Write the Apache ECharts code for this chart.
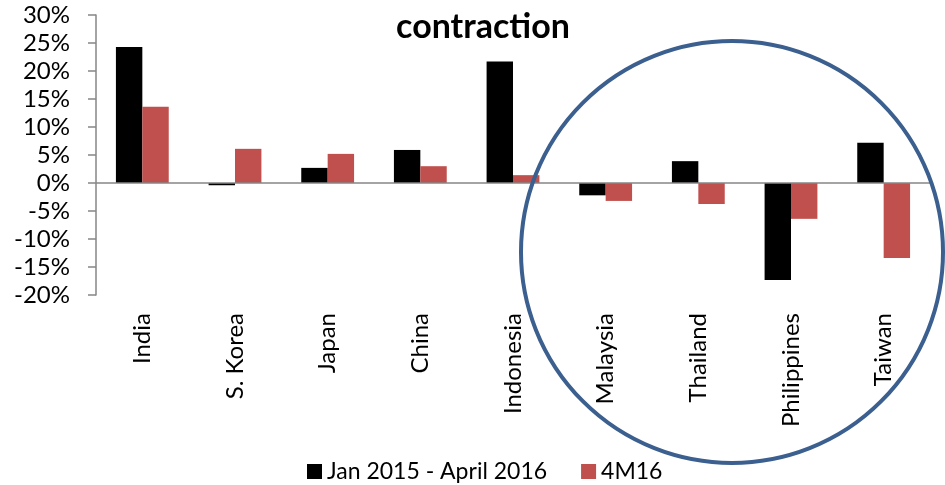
<!DOCTYPE html>
<html>
<head>
<meta charset="utf-8">
<script src="https://cdn.jsdelivr.net/npm/echarts@6/dist/echarts.min.js"></script>
<style>html,body{margin:0;padding:0;background:#fff;}#c{width:945px;height:485px;}</style>
</head>
<body>
<div id="c"></div>
<script>
const categories = ['India','S. Korea','Japan','China','Indonesia','Malaysia','Thailand','Philippines','Taiwan'];
const seriesNames = ['Jan 2015 - April 2016','4M16'];
const jan15Apr16 = [24.3, -0.4, 2.7, 5.9, 21.7, -2.2, 3.9, -17.3, 7.2];
const m4_16 = [13.6, 6.1, 5.2, 3.0, 1.4, -3.2, -3.75, -6.4, -13.4];
const yTicks = {min: -20, max: 30, interval: 5};
const titleText = 'contraction';

const font = 'Lato, "Open Sans", sans-serif';
const chart = echarts.init(document.getElementById('c'), null, {renderer: 'canvas'});
chart.setOption({
  animation: false,
  backgroundColor: '#ffffff',
  title: {
    text: titleText,
    left: 478, top: 5, textAlign: 'center',
    textStyle: {fontFamily: font, fontWeight: 'bold', fontSize: 34, color: '#000'}
  },
  grid: {left: 96, right: 15, top: 15, bottom: 190, containLabel: false},
  legend: {
    data: seriesNames,
    left: 302, top: 455,
    itemWidth: 15, itemHeight: 15, itemGap: 34,
    icon: 'rect',
    textStyle: {fontFamily: font, fontSize: 23, color: '#000'}
  },
  xAxis: {
    type: 'category', data: categories,
    axisLine: {show: false, onZero: false},
    axisTick: {show: false},
    axisLabel: {rotate: 90, margin: 18, fontFamily: font, fontSize: 24, color: '#000', interval: 0}
  },
  yAxis: {
    type: 'value', min: yTicks.min, max: yTicks.max, interval: yTicks.interval,
    axisLine: {show: true, lineStyle: {color: '#868686', width: 1.5}},
    axisTick: {show: true, inside: false, length: 8, lineStyle: {color: '#868686', width: 1.5}},
    splitLine: {show: false},
    axisLabel: {formatter: '{value}%', margin: 26, fontFamily: font, fontSize: 24, color: '#000'}
  },
  series: [
    {
      name: seriesNames[0], type: 'bar', data: jan15Apr16,
      barGap: '0%', barCategoryGap: '43%',
      itemStyle: {color: '#000000'},
      markLine: {
        silent: true, symbol: ['none','none'],
        label: {show: false},
        lineStyle: {color: '#868686', width: 1.5, type: 'solid'},
        data: [{yAxis: 0}]
      }
    },
    {
      name: seriesNames[1], type: 'bar', data: m4_16,
      itemStyle: {color: '#C0504D'}
    }
  ],
  graphic: [{
    type: 'circle', z: 100,
    shape: {cx: 732, cy: 252, r: 211},
    style: {fill: 'none', stroke: '#3b5f8e', lineWidth: 4}
  }]
});
</script>
</body>
</html>
